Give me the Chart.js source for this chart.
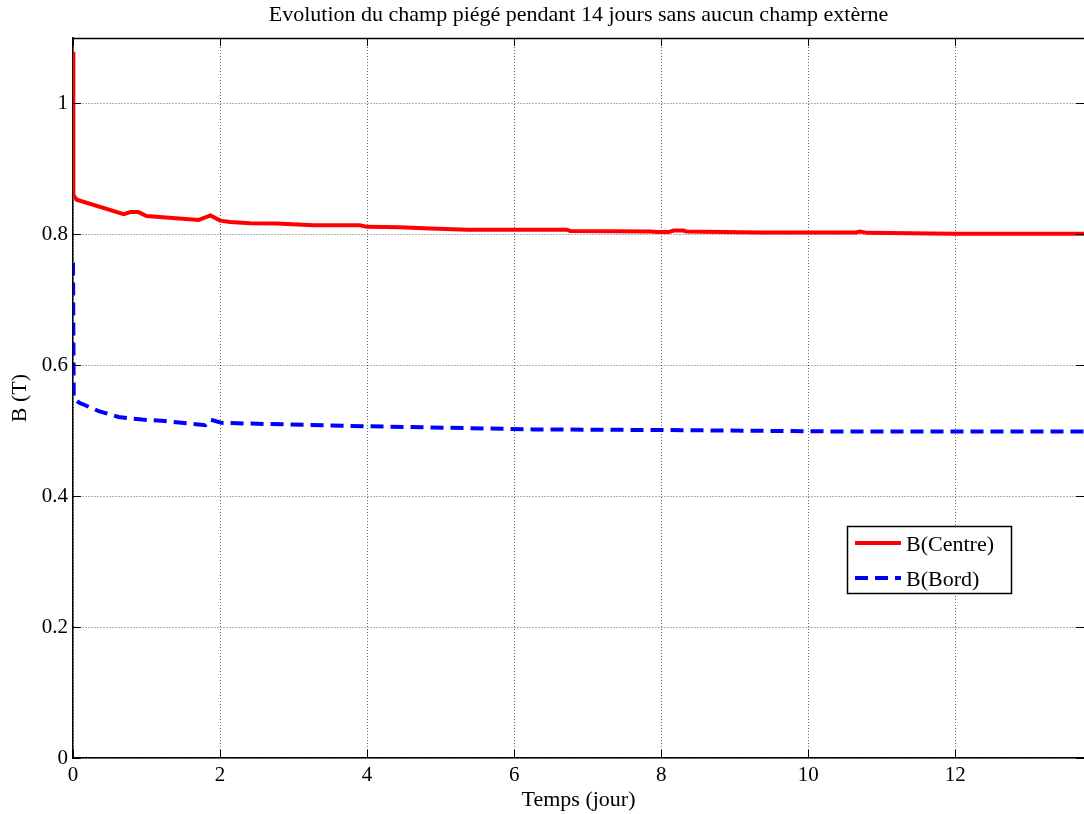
<!DOCTYPE html>
<html>
<head>
<meta charset="utf-8">
<script src="https://cdn.jsdelivr.net/npm/chart.js@4.4.1/dist/chart.umd.min.js"></script>
<style>
html,body{margin:0;padding:0;background:#fff;}
#wrap{width:1084px;height:814px;position:relative;}
</style>
</head>
<body>
<div id="wrap"><canvas id="c" width="1084" height="814"></canvas></div>
<script>
// ---- data ----
const titleText = "Evolution du champ piégé pendant 14 jours sans aucun champ extèrne";
const xLabel = "Temps (jour)";
const yLabel = "B (T)";
const seriesNames = ["B(Centre)", "B(Bord)"];

const centreX = [0, 0.005, 0.05, 0.69, 0.78, 0.89, 1.0, 1.71, 1.87, 2.0, 2.14, 2.41, 2.77, 3.27, 3.9, 4.0, 4.45, 4.86, 5.36, 6.72, 6.76, 7.85, 7.95, 8.1, 8.17, 8.3, 8.34, 9.34, 10.65, 10.7, 10.8, 11.97, 13.75];
const centreY = [1.079, 0.86, 0.853, 0.831, 0.834, 0.834, 0.828, 0.822, 0.829, 0.821, 0.819, 0.817, 0.8165, 0.814, 0.814, 0.8115, 0.811, 0.809, 0.807, 0.807, 0.805, 0.8045, 0.8035, 0.8035, 0.8058, 0.8058, 0.8044, 0.803, 0.803, 0.8044, 0.8023, 0.8008, 0.8008];

const bordX = [0, 0.01, 0.08, 0.35, 0.62, 0.94, 1.25, 1.8, 1.87, 2.02, 2.39, 3.5, 5.13, 6.26, 8.07, 10.3, 13.75];
const bordY = [0.757, 0.550, 0.543, 0.530, 0.521, 0.517, 0.5147, 0.5085, 0.517, 0.512, 0.511, 0.508, 0.5045, 0.502, 0.501, 0.499, 0.499];

const xTicks = [0, 2, 4, 6, 8, 10, 12];
const yTicks = [0, 0.2, 0.4, 0.6, 0.8, 1];
const xMax = 13.75;
const yMax = 1.1;

const toPts = (xs, ys) => xs.map((x, i) => ({x: x, y: ys[i]}));

const SERIF = "'Liberation Serif', 'DejaVu Serif', serif";

const decor = {
  id: 'decor',
  afterDraw(chart) {
    const {ctx, chartArea: a, scales} = chart;
    ctx.save();
    ctx.setLineDash([]);
    // top border
    ctx.strokeStyle = '#000';
    ctx.lineWidth = 1.5;
    ctx.beginPath();
    ctx.moveTo(a.left, a.top + 0.5);
    ctx.lineTo(a.right, a.top + 0.5);
    ctx.stroke();
    // inward tick marks
    ctx.lineWidth = 1;
    xTicks.forEach(v => {
      const px = Math.round(scales.x.getPixelForValue(v)) + 0.5;
      ctx.beginPath();
      ctx.moveTo(px, a.bottom); ctx.lineTo(px, a.bottom - 8);
      ctx.moveTo(px, a.top); ctx.lineTo(px, a.top + 8);
      ctx.stroke();
    });
    yTicks.forEach(v => {
      const py = Math.round(scales.y.getPixelForValue(v)) + 0.5;
      ctx.beginPath();
      ctx.moveTo(a.left, py); ctx.lineTo(a.left + 8, py);
      ctx.moveTo(a.right, py); ctx.lineTo(a.right - 8, py);
      ctx.stroke();
    });
    // title
    ctx.fillStyle = '#000';
    ctx.font = "22px " + SERIF;
    ctx.textAlign = 'center';
    ctx.textBaseline = 'middle';
    ctx.fillText(titleText, (a.left + a.right) / 2, 15);
    // axis titles
    ctx.fillText(xLabel, (a.left + a.right) / 2, 800);
    ctx.save();
    ctx.translate(20, (a.top + a.bottom) / 2);
    ctx.rotate(-Math.PI / 2);
    ctx.fillText(yLabel, 0, 0);
    ctx.restore();
    // legend
    const bx = 847, by = 526, bw = 164, bh = 67;
    ctx.fillStyle = '#fff';
    ctx.fillRect(bx, by, bw, bh);
    ctx.strokeStyle = '#000';
    ctx.lineWidth = 1.5;
    ctx.strokeRect(bx + 0.5, by + 0.5, bw, bh);
    const rows = [543, 578];
    chart.data.datasets.forEach((ds, i) => {
      ctx.strokeStyle = ds.borderColor;
      ctx.lineWidth = 4;
      ctx.setLineDash(ds.borderDash || []);
      ctx.beginPath();
      ctx.moveTo(855, rows[i]);
      ctx.lineTo(901, rows[i]);
      ctx.stroke();
      ctx.setLineDash([]);
      ctx.fillStyle = '#000';
      ctx.font = "22px " + SERIF;
      ctx.textAlign = 'left';
      ctx.textBaseline = 'middle';
      ctx.fillText(ds.label, 906, rows[i] + 2);
    });
    ctx.restore();
  }
};

new Chart(document.getElementById('c'), {
  type: 'line',
  data: {
    datasets: [
      {label: seriesNames[0], data: toPts(centreX, centreY), borderColor: '#ff0000', borderWidth: 4, pointRadius: 0, tension: 0, fill: false},
      {label: seriesNames[1], data: toPts(bordX, bordY), borderColor: '#0000ff', borderWidth: 4, borderDash: [13, 7], pointRadius: 0, tension: 0, fill: false}
    ]
  },
  options: {
    responsive: false,
    animation: false,
    layout: {padding: {top: 38, right: 0, left: 0, bottom: 0}},
    plugins: {legend: {display: false}, title: {display: false}, tooltip: {enabled: false}},
    scales: {
      x: {
        type: 'linear', min: 0, max: xMax,
        afterBuildTicks: ax => { ax.ticks = xTicks.map(v => ({value: v})); },
        afterFit: ax => { ax.height = 56; },
        grid: {color: 'rgba(0,0,0,0.6)', lineWidth: 1, drawTicks: false},
        border: {display: true, color: '#000', width: 1.5, dash: [1, 2]},
        ticks: {color: '#000', font: {family: SERIF, size: 21}, padding: 5, maxRotation: 0, callback: v => String(v)},
        title: {display: false}
      },
      y: {
        type: 'linear', min: 0, max: yMax,
        afterBuildTicks: ax => { ax.ticks = yTicks.map(v => ({value: v})); },
        afterFit: ax => { ax.width = 73; },
        grid: {color: 'rgba(0,0,0,0.6)', lineWidth: 1, drawTicks: false},
        border: {display: true, color: '#000', width: 1.5, dash: [1, 2]},
        ticks: {color: '#000', font: {family: SERIF, size: 21}, padding: 5, callback: v => String(Math.round(v * 10) / 10)},
        title: {display: false}
      }
    }
  },
  plugins: [decor]
});
</script>
</body>
</html>
